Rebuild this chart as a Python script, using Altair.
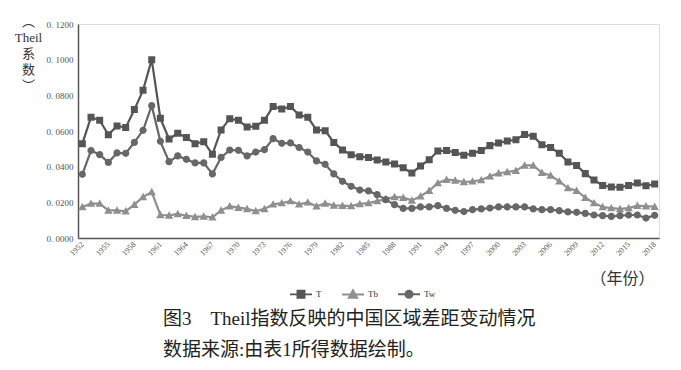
import altair as alt
import pandas as pd

years = list(range(1952, 2019))

T = [0.0529, 0.0677, 0.0660, 0.0579, 0.0628, 0.0619, 0.0720, 0.0828, 0.1000, 0.0671,
     0.0555, 0.0587, 0.0563, 0.0529, 0.0540, 0.0469, 0.0606, 0.0669, 0.0660, 0.0622,
     0.0626, 0.0660, 0.0738, 0.0723, 0.0738, 0.0690, 0.0677, 0.0606, 0.0602, 0.0536,
     0.0493, 0.0467, 0.0456, 0.0452, 0.0437, 0.0426, 0.0415, 0.0394, 0.0364, 0.0404,
     0.0439, 0.0488, 0.0490, 0.0480, 0.0464, 0.0475, 0.0490, 0.0518, 0.0533, 0.0544,
     0.0551, 0.0581, 0.0570, 0.0523, 0.0508, 0.0475, 0.0426, 0.0407, 0.0361, 0.0325,
     0.0295, 0.0286, 0.0284, 0.0295, 0.0308, 0.0293, 0.0303]

Tb = [0.0174, 0.0193, 0.0193, 0.0155, 0.0155, 0.0150, 0.0187, 0.0230, 0.0258, 0.0129,
      0.0127, 0.0135, 0.0125, 0.0118, 0.0121, 0.0116, 0.0155, 0.0178, 0.0170, 0.0163,
      0.0151, 0.0163, 0.0189, 0.0196, 0.0207, 0.0189, 0.0200, 0.0178, 0.0194, 0.0183,
      0.0181, 0.0179, 0.0191, 0.0196, 0.0207, 0.0219, 0.0230, 0.0226, 0.0211, 0.0234,
      0.0265, 0.0308, 0.0327, 0.0323, 0.0314, 0.0318, 0.0325, 0.0346, 0.0363, 0.0370,
      0.0378, 0.0407, 0.0407, 0.0366, 0.0351, 0.0318, 0.0280, 0.0265, 0.0226, 0.0196,
      0.0174, 0.0168, 0.0163, 0.0168, 0.0181, 0.0178, 0.0176]

Tw = [0.0357, 0.0490, 0.0467, 0.0424, 0.0477, 0.0475, 0.0536, 0.0604, 0.0742, 0.0542,
      0.0428, 0.0460, 0.0441, 0.0421, 0.0421, 0.0359, 0.0452, 0.0493, 0.0492, 0.0460,
      0.0482, 0.0495, 0.0557, 0.0531, 0.0533, 0.0507, 0.0482, 0.0432, 0.0413, 0.0359,
      0.0318, 0.0290, 0.0269, 0.0264, 0.0243, 0.0215, 0.0187, 0.0166, 0.0166, 0.0174,
      0.0174, 0.0181, 0.0166, 0.0155, 0.0148, 0.0159, 0.0163, 0.0168, 0.0174, 0.0174,
      0.0174, 0.0174, 0.0163, 0.0159, 0.0159, 0.0153, 0.0146, 0.0144, 0.0138, 0.0129,
      0.0125, 0.0121, 0.0125, 0.0129, 0.0129, 0.0112, 0.0127]

series_names = ["T", "Tb", "Tw"]
series_colors = ["#555555", "#8f8f8f", "#676767"]
x_ticks = [1952, 1955, 1958, 1961, 1964, 1967, 1970, 1973, 1976, 1979, 1982, 1985,
           1988, 1991, 1994, 1997, 2000, 2003, 2006, 2009, 2012, 2015, 2018]
y_ticks = [0.0, 0.02, 0.04, 0.06, 0.08, 0.10, 0.12]

rows = []
for name, vals in zip(series_names, [T, Tb, Tw]):
    for yr, v in zip(years, vals):
        rows.append({"year": yr, "value": v, "series": name})
df = pd.DataFrame(rows)

shape_paths = [
    "M-1,0H1M-0.32,-0.32H0.32V0.32H-0.32Z",
    "M-1,0H1M0,-0.38L0.38,0.3H-0.38Z",
    "M-1,0H1M0.33,0A0.33,0.33,0,1,1,-0.33,0A0.33,0.33,0,1,1,0.33,0Z",
]

SERIF = "Liberation Serif, Noto Sans CJK SC"

legend_props = dict(
    title=None, orient="none", legendX=211, legendY=258, direction="horizontal",
    symbolSize=484, symbolStrokeColor="#707070", symbolStrokeWidth=1.9,
    labelFont=SERIF, labelFontSize=9, labelColor="#333333",
    columnPadding=16, labelOffset=3, padding=0,
)

x_enc = alt.X(
    "year:Q",
    scale=alt.Scale(domain=[1951.5, 2018.5], nice=False, zero=False),
    axis=alt.Axis(
        values=x_ticks, format="d", labelAngle=-45, labelAlign="right",
        labelBaseline="middle", labelFont=SERIF, labelFontSize=8,
        labelColor="#555555", labelPadding=5, ticks=False, grid=False,
        domainColor="#555555", domainWidth=1.5,
        title="（年份）", titleX=544, titleY=40, titleAlign="center",
        titleBaseline="middle", titleFont=SERIF, titleFontSize=16,
        titleFontWeight="normal", titleColor="#333333",
    ),
)
y_enc = alt.Y(
    "value:Q",
    scale=alt.Scale(domain=[0, 0.12], nice=False),
    axis=alt.Axis(
        values=y_ticks,
        labelExpr="replace(format(datum.value, '.4f'), '.', '. ')",
        labelFont=SERIF, labelFontSize=9, labelColor="#555555", labelPadding=5,
        ticks=False, grid=False, domainColor="#555555", domainWidth=1.5,
        title=["︵", "Theil", "系", "数", "︶"], titleAngle=0, titleX=-50, titleY=-9,
        titleAlign="center", titleBaseline="top", titleLineHeight=16,
        titleFont=SERIF, titleFontSize=13, titleFontWeight="normal",
        titleColor="#333333",
    ),
)

color_enc = alt.Color("series:N", scale=alt.Scale(domain=series_names, range=series_colors),
                      legend=alt.Legend(**legend_props))
shape_enc = alt.Shape("series:N", scale=alt.Scale(domain=series_names, range=shape_paths),
                      legend=alt.Legend(**legend_props))

base = alt.Chart(df)
lines = base.mark_line(strokeWidth=2.2).encode(x=x_enc, y=y_enc, color=color_enc)
points = base.mark_point(filled=True, size=480, opacity=1).encode(
    x=x_enc, y=y_enc, color=color_enc, shape=shape_enc,
)

chart = alt.layer(lines, points).properties(
    width=581, height=214,
    autosize=alt.AutoSizeParams(type="none"),
    padding={"left": 70, "top": 16, "right": 14, "bottom": 124},
    title=alt.Title(
        text="图3\u3000Theil指数反映的中国区域差距变动情况",
        subtitle="数据来源:由表1所得数据绘制。",
        orient="bottom", anchor="start", frame="group", dx=85, offset=8,
        font=SERIF, fontSize=19, fontWeight="normal", color="#222222",
        subtitleFont=SERIF, subtitleFontSize=19, subtitleColor="#222222",
        subtitlePadding=12,
    ),
).configure_view(strokeOpacity=0).configure(background="white")

chart.save("out.html", embed_options={"renderer": "svg", "actions": False})
